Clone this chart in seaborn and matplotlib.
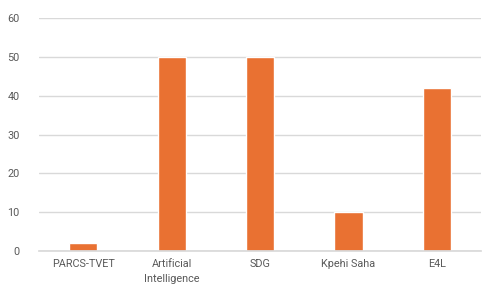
import matplotlib
matplotlib.use("Agg")
import matplotlib.pyplot as plt
import pandas as pd
import seaborn as sns

# data
categories = ["PARCS-TVET", "Artificial\nIntelligence", "SDG", "Kpehi Saha", "E4L"]
values = [2, 50, 50, 10, 42]
y_ticks = [0, 10, 20, 30, 40, 50, 60]

BAR_COLOR = "#E97132"
GRID_COLOR = "#D9D9D9"
TEXT_COLOR = "#595959"

sns.set_theme(style="white")
plt.rcParams["font.family"] = ["Roboto", "DejaVu Sans"]

df = pd.DataFrame({"category": categories, "value": values})

fig = plt.figure(figsize=(4.89, 2.85), dpi=100)
ax = fig.add_axes([0.08, 0.119, 0.904, 0.818])

ax.set_axisbelow(True)
ax.yaxis.grid(True, color=GRID_COLOR, linewidth=1)
sns.barplot(data=df, x="category", y="value", color=BAR_COLOR,
            width=0.32, saturation=1, ax=ax)

ax.set_ylim(0, 60)
ax.set_yticks(y_ticks)
ax.set_xlim(-0.5, len(categories) - 0.5)
ax.set_xlabel("")
ax.set_ylabel("")
for side in ["top", "right", "left"]:
    ax.spines[side].set_visible(False)
ax.spines["bottom"].set_color(GRID_COLOR)
ax.tick_params(axis="both", length=0, labelsize=7.8, colors=TEXT_COLOR)
ax.tick_params(axis="y", pad=14)
ax.tick_params(axis="x", pad=6)
for lbl in ax.get_xticklabels():
    lbl.set_linespacing(1.6)

fig.savefig("out.png", dpi=100)
